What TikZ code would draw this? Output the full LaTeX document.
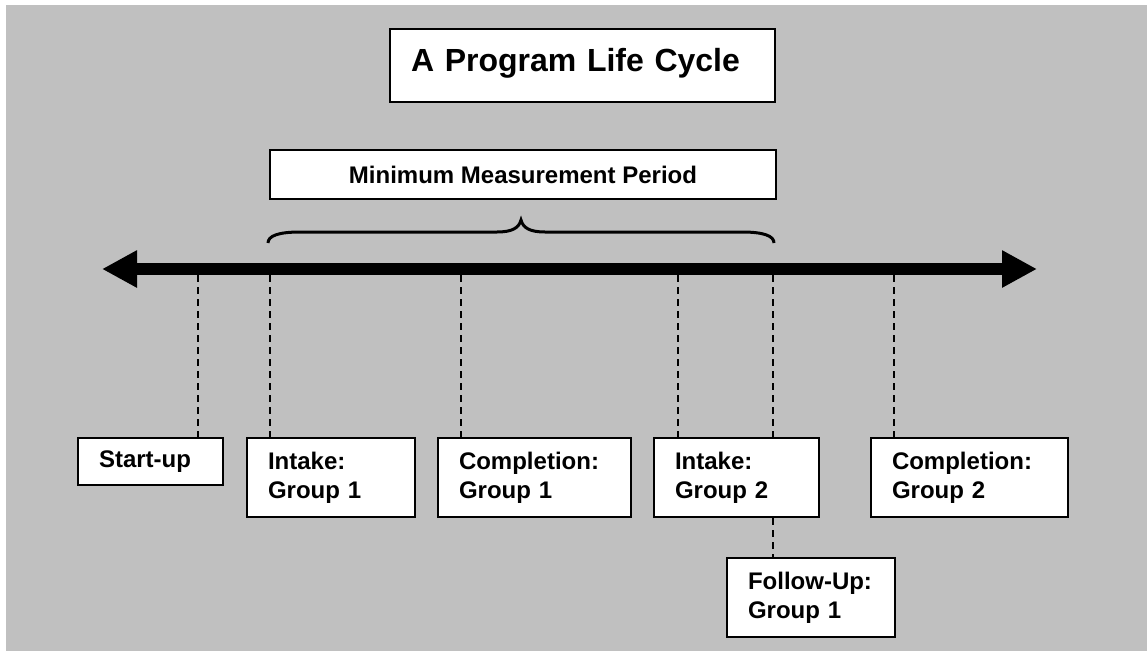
\documentclass[tikz,border=0pt]{standalone}
\usepackage{fontspec}
\setmainfont{Liberation Sans}
\usepackage{tikz}
\usetikzlibrary{arrows.meta, calc}
\definecolor{bggray}{RGB}{192,192,192}

\tikzset{
    evbox/.style={draw, fill=white, line width=1.5pt, anchor=north west,
        inner xsep=15.75pt, inner ysep=0pt, align=left,
        font=\fontsize{18}{21.6}\selectfont\bfseries},
    guide/.style={line width=1.5pt, dash pattern=on 5.5pt off 3.5pt}
}

\begin{document}
\begin{tikzpicture}[x=0.75pt, y=-0.75pt]
    \useasboundingbox (0,0) rectangle (1147,651);
    \fill[bggray] (6,5) rectangle (1147,651);

    % Title and period label
    \node[evbox, text width=257.25pt, text height=31.5pt, text depth=23.25pt,
        font=\fontsize{24}{28.8}\selectfont\bfseries] (title) at (389,28) {A Program Life Cycle};
    \node[evbox, align=center, inner xsep=0pt, minimum width=379.5pt, minimum height=36.75pt] (period) at (269,149) {Minimum Measurement Period};

    % Draw brace
    \draw[line width=2.25pt] (268,243) .. controls (268,236) and (278,232) .. (300,232) -- (497,232)
        .. controls (512,232) and (519,228) .. (521,220)
        .. controls (523,228) and (530,232) .. (545,232) -- (742,232)
        .. controls (764,232) and (774,236) .. (774,243);

    % Draw timeline
    \coordinate (tl) at (102,269);
    \coordinate (tr) at (1037,269);
    \draw[line width=8.5pt, {Triangle[length=26.25pt,width=26.25pt]}-{Triangle[length=26.25pt,width=26.25pt]}] (tl) -- (tr);

    % Events
    \node[evbox, text width=77.25pt, minimum height=35.25pt] (startup) at (77,437) {\mbox{Start-up}};
    \node[evbox, text width=94.5pt, minimum height=59.25pt] (intakeA) at (246,437) {Intake:\\Group 1};
    \node[evbox, text width=113.25pt, minimum height=59.25pt] (complA) at (437,437) {Completion:\\Group 1};
    \node[evbox, text width=92.25pt, minimum height=59.25pt] (intakeB) at (653,437) {Intake:\\Group 2};
    \node[evbox, text width=116.25pt, minimum height=59.25pt] (complB) at (870,437) {Completion:\\Group 2};
    \node[evbox, text width=94.5pt, minimum height=59.25pt] (followA) at (726,557) {\mbox{Follow-Up:}\\Group 1};

    % Dashed guides
    \coordinate (g1) at (198,275);
    \coordinate (g2) at (270,275);
    \coordinate (g3) at (461,275);
    \coordinate (g4) at (678,275);
    \coordinate (g5) at (773,275);
    \coordinate (g6) at (894,275);
    \draw[guide] (g1) -- (g1 |- startup.north);
    \draw[guide] (g2) -- (g2 |- intakeA.north);
    \draw[guide] (g3) -- (g3 |- complA.north);
    \draw[guide] (g4) -- (g4 |- intakeB.north);
    \draw[guide] (g5) -- (g5 |- intakeB.north);
    \draw[guide] (g6) -- (g6 |- complB.north);
    \draw[guide] (g5 |- intakeB.south) -- (g5 |- followA.north);
\end{tikzpicture}
\end{document}
